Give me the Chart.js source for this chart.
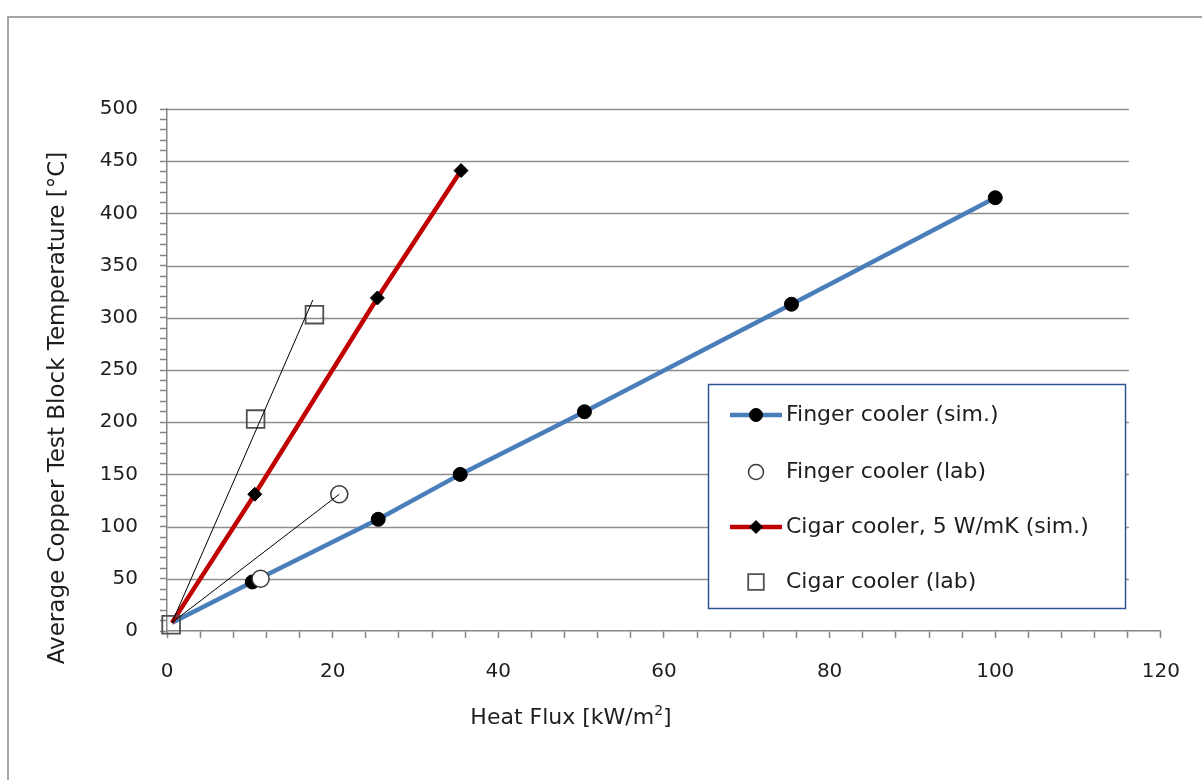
<!DOCTYPE html>
<html>
<head>
<meta charset="utf-8">
<title>Copper test block temperature vs heat flux</title>
<script src="https://cdn.jsdelivr.net/npm/chart.js@4.4.0/dist/chart.umd.min.js"></script>
<style>
    html, body { margin: 0; padding: 0; background: #fff; }
    #wrap { position: relative; width: 1202px; height: 780px; }
</style>
</head>
<body>
<div id="wrap"><canvas id="heatChart" width="1202" height="780"></canvas></div>
<script>
// Values (heat flux in kW/m2, temperature in degC)
const fingerSimFlux = [0.6, 10.3, 25.5, 35.4, 50.4, 75.4, 100];
const fingerSimTemp = [8, 47, 107, 150, 210, 313, 415];

const fingerLabFlux = [11.3, 20.8];
const fingerLabTemp = [50, 131];

const cigarSimFlux = [0.6, 10.6, 25.4, 35.5];
const cigarSimTemp = [8, 131, 319, 441];

const cigarLabFlux = [0.5, 10.7, 17.8];
const cigarLabTemp = [6, 203, 303];

// thin black guide lines drawn through the lab points
const fingerFitFlux = [0.6, 20.8];
const fingerFitTemp = [8, 131];
const cigarFitFlux = [0.6, 17.6];
const cigarFitTemp = [8, 317];

const xTickLabels = [0, 20, 40, 60, 80, 100, 120];
const yTickLabels = [0, 50, 100, 150, 200, 250, 300, 350, 400, 450, 500];

const FONT = '"DejaVu Sans", Verdana, sans-serif';
const TEXT = '#1e1e1e';
const AXIS = '#868686';

function toPoints(xs, ys) {
    return xs.map((x, i) => ({ x: x, y: ys[i] }));
}

// Frame, horizontal gridlines and axis titles
const backdrop = {
    id: 'backdrop',
    beforeDraw(chart) {
        const ctx = chart.ctx;
        ctx.save();
        ctx.fillStyle = '#fff';
        ctx.fillRect(0, 0, chart.width, chart.height);
        ctx.strokeStyle = '#a6a6a6';
        ctx.lineWidth = 2;
        ctx.strokeRect(8, 17, chart.width, chart.height);
        ctx.restore();
    },
    beforeDatasetsDraw(chart) {
        const ctx = chart.ctx;
        const area = chart.chartArea;
        const y = chart.scales.y;
        const right = area.right - 32;
        ctx.save();
        ctx.strokeStyle = '#8e8e8e';
        ctx.lineWidth = 1.5;
        yTickLabels.forEach(v => {
            if (v === 0) return;
            const py = Math.round(y.getPixelForValue(v)) + 0.5;
            ctx.beginPath();
            ctx.moveTo(area.left, py);
            ctx.lineTo(right, py);
            ctx.stroke();
        });
        ctx.restore();
    },
    afterDraw(chart) {
        const ctx = chart.ctx;
        ctx.save();
        ctx.fillStyle = TEXT;
        ctx.textBaseline = 'middle';

        // x title with superscript
        const main = 'Heat Flux [kW/m';
        ctx.font = '22px ' + FONT;
        const w1 = ctx.measureText(main).width;
        const w3 = ctx.measureText(']').width;
        ctx.font = '14px ' + FONT;
        const w2 = ctx.measureText('2').width;
        let tx = 571 - (w1 + w2 + w3) / 2;
        const ty = 718;
        ctx.font = '22px ' + FONT;
        ctx.textAlign = 'left';
        ctx.fillText(main, tx, ty);
        ctx.font = '14px ' + FONT;
        ctx.fillText('2', tx + w1, ty - 7);
        ctx.font = '22px ' + FONT;
        ctx.fillText(']', tx + w1 + w2, ty);

        // y title
        ctx.font = '23px ' + FONT;
        ctx.translate(58, 408);
        ctx.rotate(-Math.PI / 2);
        ctx.textAlign = 'center';
        ctx.fillText('Average Copper Test Block Temperature [°C]', 0, 0);
        ctx.restore();
    }
};

// Boxed legend inside the plot
const legendRowY = [415, 472, 527, 582];
const boxLegend = {
    id: 'boxLegend',
    afterDraw(chart) {
        const ctx = chart.ctx;
        ctx.save();
        ctx.fillStyle = '#fff';
        ctx.fillRect(708, 384, 417, 224);
        ctx.strokeStyle = '#2f5597';
        ctx.lineWidth = 1.5;
        ctx.strokeRect(708.5, 384.5, 417, 224);

        const items = chart.data.datasets.filter(d => d.inLegend);
        items.forEach((ds, i) => {
            const y = legendRowY[i];
            if (ds.showLine) {
                ctx.strokeStyle = ds.borderColor;
                ctx.lineWidth = ds.borderWidth;
                ctx.beginPath();
                ctx.moveTo(730, y);
                ctx.lineTo(782, y);
                ctx.stroke();
            }
            ctx.fillStyle = ds.pointBackgroundColor;
            ctx.strokeStyle = ds.pointBorderColor;
            ctx.lineWidth = ds.pointBorderWidth;
            Chart.helpers.drawPoint(ctx, {
                pointStyle: ds.pointStyle,
                radius: ds.legendRadius,
                borderWidth: ds.pointBorderWidth,
                rotation: 0
            }, 756, y);
            ctx.fillStyle = TEXT;
            ctx.font = '22px ' + FONT;
            ctx.textAlign = 'left';
            ctx.textBaseline = 'middle';
            ctx.fillText(ds.label, 786, y);
        });
        ctx.restore();
    }
};

const ctx = document.getElementById('heatChart').getContext('2d');
const heatChart = new Chart(ctx, {
    type: 'scatter',
    data: {
        datasets: [
            {
                label: 'guide finger',
                data: toPoints(fingerFitFlux, fingerFitTemp),
                showLine: true,
                borderColor: '#000',
                borderWidth: 1,
                pointRadius: 0,
                order: 0
            },
            {
                label: 'guide cigar',
                data: toPoints(cigarFitFlux, cigarFitTemp),
                showLine: true,
                borderColor: '#000',
                borderWidth: 1,
                pointRadius: 0,
                order: 0
            },
            {
                label: 'Finger cooler (sim.)',
                inLegend: true,
                data: toPoints(fingerSimFlux, fingerSimTemp),
                showLine: true,
                borderColor: '#4a7ebb',
                borderWidth: 4.5,
                pointStyle: 'circle',
                pointRadius: c => c.dataIndex === 0 ? 0 : 7,
                legendRadius: 6.5,
                pointBackgroundColor: '#000',
                pointBorderColor: '#000',
                pointBorderWidth: 1,
                order: 4
            },
            {
                label: 'Finger cooler (lab)',
                inLegend: true,
                data: toPoints(fingerLabFlux, fingerLabTemp),
                showLine: false,
                pointStyle: 'circle',
                pointRadius: 8.5,
                legendRadius: 7.5,
                pointBackgroundColor: '#fff',
                pointBorderColor: '#3a3a3a',
                pointBorderWidth: 1.5,
                order: 2
            },
            {
                label: 'Cigar cooler, 5 W/mK (sim.)',
                inLegend: true,
                data: toPoints(cigarSimFlux, cigarSimTemp),
                showLine: true,
                borderColor: '#c00000',
                borderWidth: 4.5,
                pointStyle: 'rectRot',
                pointRadius: c => c.dataIndex === 0 ? 0 : 7,
                legendRadius: 6.5,
                pointBackgroundColor: '#000',
                pointBorderColor: '#000',
                pointBorderWidth: 1,
                order: 3
            },
            {
                label: 'Cigar cooler (lab)',
                inLegend: true,
                data: toPoints(cigarLabFlux, cigarLabTemp),
                showLine: false,
                clip: false,
                pointStyle: 'rect',
                pointRadius: 12.5,
                legendRadius: 11,
                pointBackgroundColor: 'rgba(255,255,255,0)',
                pointBorderColor: '#505050',
                pointBorderWidth: 1.8,
                order: 1
            }
        ]
    },
    options: {
        responsive: false,
        animation: false,
        layout: { padding: { left: 0, top: 109, right: 39, bottom: 0 } },
        plugins: {
            legend: { display: false },
            tooltip: { enabled: false }
        },
        scales: {
            x: {
                type: 'linear',
                min: 0,
                max: 120,
                afterFit: s => { s.height = 149; },
                border: { display: true, color: AXIS, width: 1.5 },
                grid: {
                    drawOnChartArea: false,
                    drawTicks: true,
                    tickLength: 7,
                    tickColor: AXIS,
                    tickWidth: 1.5
                },
                ticks: {
                    stepSize: 4,
                    autoSkip: false,
                    maxRotation: 0,
                    padding: 22,
                    color: TEXT,
                    font: { family: FONT, size: 20 },
                    callback: v => xTickLabels.includes(v) ? String(v) : ''
                }
            },
            y: {
                type: 'linear',
                min: 0,
                max: 500,
                afterFit: s => { s.width = 167; },
                border: { display: true, color: AXIS, width: 1.5 },
                grid: {
                    drawOnChartArea: false,
                    drawTicks: true,
                    tickLength: 7,
                    tickColor: AXIS,
                    tickWidth: 1.5
                },
                ticks: {
                    stepSize: 10,
                    autoSkip: false,
                    padding: 22,
                    color: TEXT,
                    font: { family: FONT, size: 20 },
                    callback: v => yTickLabels.includes(v) ? String(v) : ''
                }
            }
        }
    },
    plugins: [backdrop, boxLegend]
});
</script>
</body>
</html>
